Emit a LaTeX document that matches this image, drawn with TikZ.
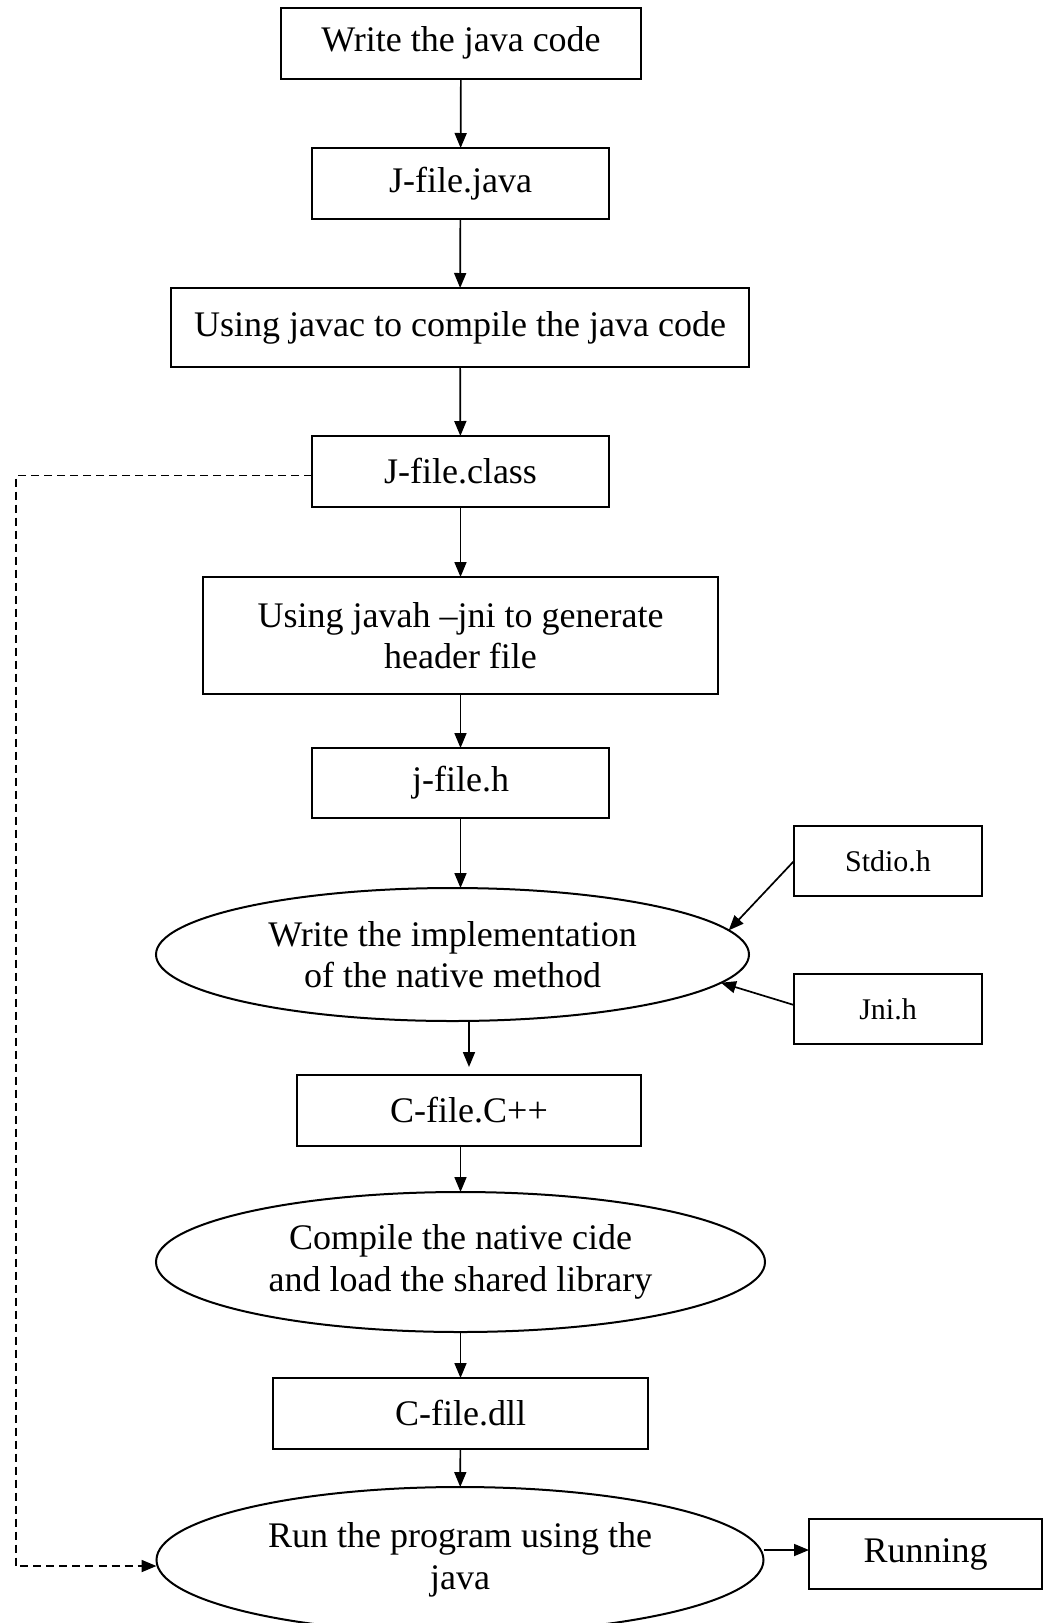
\documentclass[tikz,border=0pt]{standalone}
\usepackage{fontspec}
\setmainfont{Liberation Serif}
\usetikzlibrary{shapes.geometric,arrows.meta}
\begin{document}
\begin{tikzpicture}[x=1pt,y=-1pt,
  every node/.style={inner sep=0pt,outer sep=0pt,font=\fontsize{36}{41.5}\selectfont,align=center},
  box/.style={draw,line width=2pt,rectangle},
  smallbox/.style={draw,line width=2pt,rectangle,font=\fontsize{30}{34}\selectfont},
  oval/.style={draw,line width=2pt,ellipse},
  arr/.style={line width=1.7pt,-{Triangle[length=15pt,width=12pt]}},
  dasharr/.style={line width=1.9pt,dash pattern=on 8pt off 5pt,-{Triangle[length=15pt,width=12pt]}}]
\useasboundingbox (0,0) rectangle (1043,1623);
\node[box,minimum width=360pt,minimum height=71pt] (b1) at (461,43) {Write the java code};
\node[box,minimum width=297pt,minimum height=71pt] (b2) at (460.5,183.5) {J-file.java};
\node[box,minimum width=578pt,minimum height=79pt] (b3) at (460,327.5) {Using javac to compile the java code};
\node[box,minimum width=297pt,minimum height=71pt] (b4) at (460.5,471.5) {J-file.class};
\node[box,minimum width=515pt,minimum height=117pt] (b5) at (460.5,635.5) {Using javah –jni to generate\\header file};
\node[box,minimum width=297pt,minimum height=70pt] (b6) at (460.5,783) {j-file.h};
\node[smallbox,minimum width=188pt,minimum height=70pt] (stdio) at (888,861) {Stdio.h};
\node[oval,minimum width=593pt,minimum height=133pt] (e1) at (452.5,954.5) {Write the implementation\\of the native method};
\node[smallbox,minimum width=188pt,minimum height=70pt] (jni) at (888,1009) {Jni.h};
\node[box,minimum width=344pt,minimum height=71pt] (cpp) at (469,1110.5) {C-file.C++};
\node[oval,minimum width=609pt,minimum height=140pt] (e2) at (460.5,1262) {Compile the native cide\\and load the shared library};
\node[box,minimum width=375pt,minimum height=71pt] (dll) at (460.5,1413.5) {C-file.dll};
\node[oval,minimum width=607pt,minimum height=146pt] (e3) at (460,1560) {Run the program using the\\java};
\node[box,minimum width=233pt,minimum height=70pt] (run) at (925.5,1554) {Running};
\coordinate (dl) at (16,475.5);
\draw[arr] (b1) -- (b2);
\draw[arr] (b2) -- (b3);
\draw[arr] (b3) -- (b4);
\draw[arr] (b4) -- (b5);
\draw[arr] (b5) -- (b6);
\draw[arr] (b6.south) -- (b6.south |- e1.north);
\draw[arr] (stdio.west) -- (e1.5.6);
\draw[arr] ([yshift=4pt]jni.west) -- (e1.354.2);
\draw[arr,shorten >=8pt] (e1.south -| cpp.north) -- (cpp.north);
\draw[arr] (cpp.south -| e2.north) -- (e2.north);
\draw[arr] (e2) -- (dll);
\draw[arr] (dll) -- (e3);
\draw[arr] ([yshift=4pt]run.west -| e3.east) -- ([yshift=4pt]run.west);
\draw[dasharr] ([yshift=-4pt]b4.west) -- (dl) |- ([yshift=-6pt]e3.west);
\end{tikzpicture}
\end{document}
